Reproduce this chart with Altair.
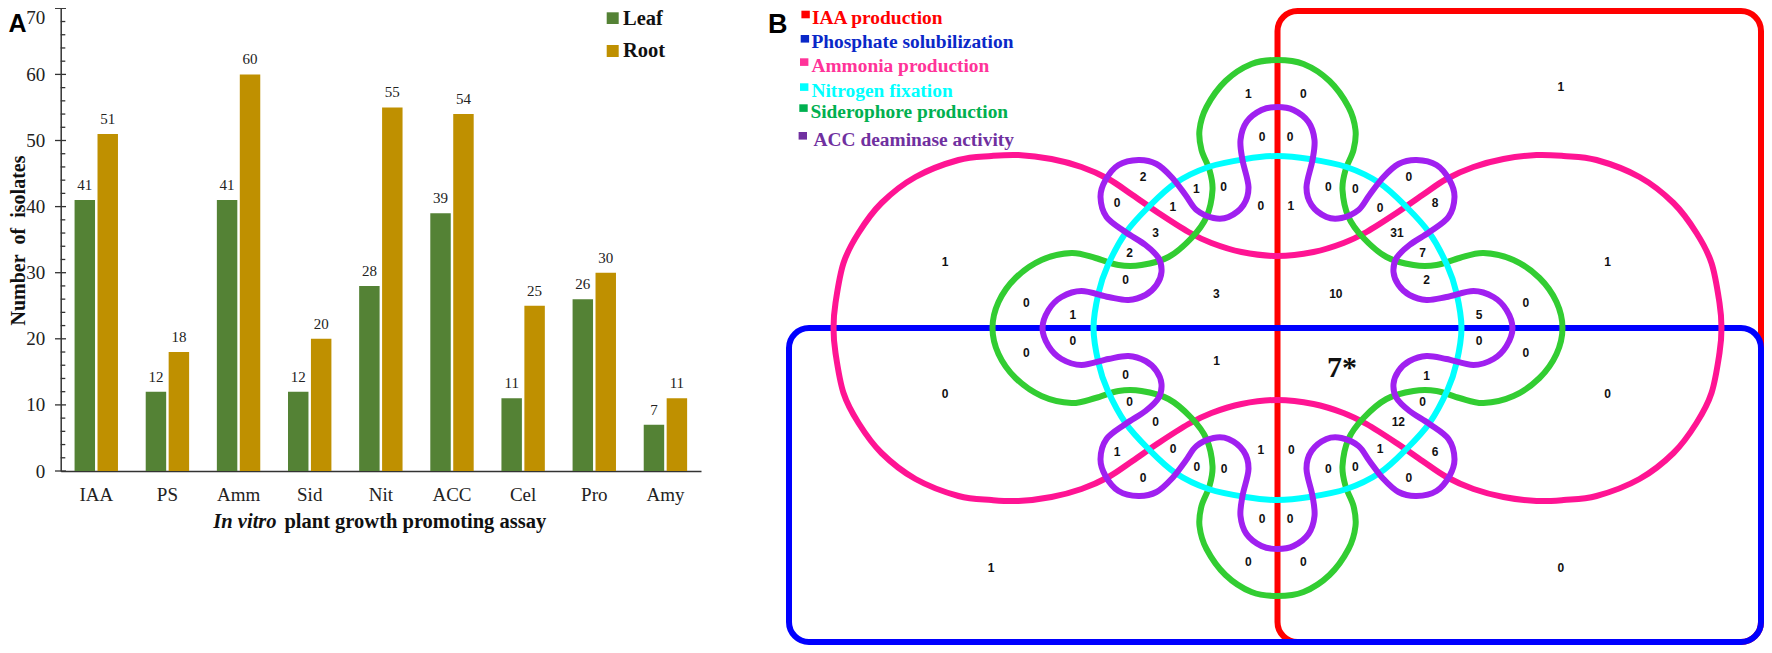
import altair as alt
import pandas as pd

SERIF = "Liberation Serif"
SANS = "Liberation Sans"

# ---------- panel A values ----------
categories = ["IAA", "PS", "Amm", "Sid", "Nit", "ACC", "Cel", "Pro", "Amy"]
leaf_values = [41, 12, 41, 12, 28, 39, 11, 26, 7]
root_values = [51, 18, 60, 20, 55, 54, 25, 30, 11]
series_names = ["Leaf", "Root"]
series_colors = ["#548235", "#bf9000"]
major_ticks = [0, 10, 20, 30, 40, 50, 60, 70]
minor_ticks = [2, 4, 6, 8, 12, 14, 16, 18, 22, 24, 26, 28, 32, 34, 36, 38, 42, 44, 46, 48, 52, 54, 56, 58, 62, 64, 66, 68]

# ---------- panel B outlines: one quadrant, (across, along) from the diagram centre ----------
centre_x, centre_y = 1277.5, 328
pink_q = [(0, 72), (36, 76), (66, 85), (89, 96), (119, 115), (145, 133), (169, 149), (196, 161),
          (226, 169), (259, 173), (286, 172), (319, 168), (362, 151), (396, 125), (419, 95), (434, 65), (442, 25), (444, 0)]
green_q = [(0, 268), (26, 264), (52, 247), (71, 221), (78, 198), (76, 178), (68, 158), (65, 138), (71, 111), (86, 90),
           (109, 71), (136, 63), (159, 63), (182, 70), (206, 75), (236, 68), (262, 50), (279, 26), (285, 0)]
cyan_q = [(0, 172), (32, 169), (69, 161), (102, 145), (129, 121), (152, 95), (170, 62), (179, 35), (184, 0)]
purple_q = [(0, 221), (16, 218), (31, 206), (37, 188), (35, 168), (29, 141), (34, 123), (49, 111), (64, 110), (81, 118),
            (92, 133), (106, 151), (121, 164), (139, 168), (159, 163), (172, 148), (177, 131), (171, 111), (152, 96),
            (132, 83), (119, 70), (116, 56), (121, 43), (132, 33), (149, 28), (169, 31), (196, 37), (216, 31),
            (229, 18), (235, 0)]

red_box = [1277.5, 1761, 11, 642]
blue_box = [789, 1761, 328, 642]

venn_labels = [
    ("2", 1143.2, 177.3), ("0", 1117.1, 203.3), ("1", 1196.4, 189.3), ("0", 1223.6, 186.7), ("1", 1172.9, 207.3),
    ("3", 1155.7, 233.3), ("2", 1129.6, 252.7), ("0", 1125.7, 280), ("3", 1216.4, 294.3), ("1", 945, 261.7),
    ("0", 1026.4, 303.3), ("1", 1072.9, 315), ("1", 1560.8, 87.3), ("1", 1248.3, 94), ("0", 1303.3, 94),
    ("0", 1262, 136.7), ("0", 1290, 136.7), ("0", 1260.8, 205.7), ("1", 1290.8, 205.7), ("0", 1328.3, 186.7),
    ("0", 1355.4, 189), ("0", 1408.8, 177.3), ("8", 1435, 203.3), ("0", 1380, 207.7), ("31", 1397, 233.3),
    ("7", 1422.5, 253.3), ("2", 1426.7, 280), ("1", 1607.5, 261.7), ("10", 1335.8, 294.3), ("0", 1525.8, 303.3),
    ("5", 1479.2, 315), ("0", 1479.2, 341), ("0", 1525.8, 352.7), ("1", 1216.7, 361), ("1", 1426.7, 375.7),
    ("0", 1607.5, 393.7), ("0", 1422.5, 402.3), ("12", 1398.3, 421.7), ("1", 1260.8, 450), ("0", 1291.3, 450),
    ("1", 1380, 449.3), ("6", 1435, 451.7), ("0", 1224.2, 469.3), ("0", 1328.3, 469.3), ("0", 1355.4, 467.3),
    ("0", 1408.8, 478), ("0", 1262, 518.7), ("0", 1290, 518.7), ("0", 1248.3, 562.3), ("0", 1303.3, 562.3),
    ("0", 1560.8, 568), ("0", 1026.4, 352.7), ("0", 1072.9, 341), ("0", 1125.7, 375.3), ("0", 945, 393.7),
    ("0", 1129.6, 402.3), ("0", 1155.7, 421.7), ("0", 1173.2, 449), ("1", 1117.1, 452), ("0", 1196.8, 467.3),
    ("0", 1143.2, 478), ("1", 991, 568.3),
]

legend_b_names = ["IAA production", "Phosphate solubilization", "Ammonia production", "Nitrogen fixation",
                  "Siderophore production", "ACC deaminase activity"]
legend_b_text_x = [812, 811.4, 811.4, 811.4, 810.4, 813.6]
legend_b_base_y = [24, 48, 71.7, 96.7, 118, 145.7]
legend_b_sq_x = [801.4, 800.7, 800, 800, 799.3, 798.6]
legend_b_sq_y = [10.7, 35, 58.3, 83.3, 104.3, 132]
legend_b_colors = ["#ff0000", "#0a28c8", "#ff3399", "#00ffff", "#00b050", "#7030a0"]

# ---------- scales ----------
W, H = 1756, 637
canvas_x = alt.Scale(domain=[8, 8 + W], range=[0, W])
canvas_y = alt.Scale(domain=[8, 8 + H], range=[0, H])
AX_L, AX_R, AX_T, AX_B = 60.7 - 8, 701 - 8, 8.3 - 8, 471 - 8


def cx(f="x"):
    return alt.X(f"{f}:Q", scale=canvas_x, axis=None)


def cy(f="y"):
    return alt.Y(f"{f}:Q", scale=canvas_y, axis=None)


# ---------- panel A ----------
bars_df = pd.DataFrame({
    "cat": categories * 2,
    "series": ["Leaf"] * 9 + ["Root"] * 9,
    "v": leaf_values + root_values,
})
x_bar = alt.X("cat:N", sort=categories,
              scale=alt.Scale(range=[AX_L, AX_R], paddingInner=0.39, paddingOuter=0.195),
              axis=alt.Axis(title=None, labelAngle=0, labelFont=SERIF, labelFontSize=19, labelColor="#222",
                            tickSize=0, labelPadding=14, domainColor="#333", domainWidth=1.5,
                            offset=-(H - AX_B)))
xo = alt.XOffset("series:N", sort=series_names, scale=alt.Scale(paddingInner=0.108, paddingOuter=0))
y_scale = alt.Scale(domain=[0, 70], range=[AX_B, AX_T], nice=False)
y_bar = alt.Y("v:Q", scale=y_scale,
              axis=alt.Axis(title=None, values=major_ticks, labelFont=SERIF, labelFontSize=19, labelColor="#222",
                            ticks=False, labelPadding=16, domainColor="#333", domainWidth=1.5, grid=False,
                            labelBaseline={"condition": {"test": "datum.value == 70", "value": "top"}, "value": "middle"},
                            offset=-AX_L))

bars = alt.Chart(bars_df).mark_bar().encode(
    x=x_bar, xOffset=xo, y=y_bar,
    color=alt.Color("series:N", scale=alt.Scale(domain=series_names, range=series_colors), legend=None),
)
bar_text = alt.Chart(bars_df).mark_text(font=SERIF, fontSize=15, color="#222", baseline="alphabetic", dy=-10).encode(
    x=x_bar, xOffset=xo, y=y_bar, text="v:Q",
)
maj = alt.Chart(pd.DataFrame({"v": major_ticks})).mark_rule(color="#333", strokeWidth=1.3).encode(
    y=y_bar, x=alt.value(AX_L - 5.7), x2=alt.value(AX_L + 5.3))
mnr = alt.Chart(pd.DataFrame({"v": minor_ticks})).mark_rule(color="#333", strokeWidth=1.3).encode(
    y=y_bar, x=alt.value(AX_L), x2=alt.value(AX_L + 4.6))
panel_a = alt.layer(bars, bar_text, maj, mnr)


# ---------- panel B ----------
def closed_outline(q):
    """Mirror one quadrant round the centre; returns a closed run of control points."""
    pts = [(a, -b) for a, b in q]                              # top to right
    pts += [(a, b) for a, b in reversed(q[:-1])]               # right to bottom
    pts += [(-a, b) for a, b in q[1:]]                         # bottom to left
    pts += [(-a, -b) for a, b in reversed(q[1:-1])]            # left to top
    return pd.DataFrame({"x": [centre_x + p[0] for p in pts], "y": [centre_y + p[1] for p in pts],
                         "i": list(range(len(pts)))})


def outline(q, color, sw=6):
    return alt.Chart(closed_outline(q)).mark_line(
        interpolate="cardinal-closed", tension=0, color=color, strokeWidth=sw
    ).encode(x=cx(), y=cy(), order="i:Q")


def box(b, color):
    return alt.Chart(pd.DataFrame({"x": [b[0]], "x2": [b[1]], "y": [b[2]], "y2": [b[3]]})).mark_rect(
        fill="transparent", stroke=color, strokeWidth=6, cornerRadius=20
    ).encode(x=cx(), x2="x2:Q", y=cy(), y2="y2:Q")


def texts(df, **kw):
    return alt.Chart(df).mark_text(**kw).encode(x=cx(), y=cy(), text="t:N")


vl = pd.DataFrame(venn_labels, columns=["t", "x", "y"])
venn_num = texts(vl, font=SANS, fontWeight="bold", fontSize=12, color="#111", align="center", baseline="middle")
seven = texts(pd.DataFrame({"t": ["7*"], "x": [1342], "y": [376.5]}), font=SERIF, fontWeight="bold", fontSize=30,
              color="#111", align="center", baseline="alphabetic")

leg_b_df = pd.DataFrame({"t": legend_b_names, "x": legend_b_text_x, "y": legend_b_base_y, "c": legend_b_colors})
leg_b_text = alt.Chart(leg_b_df).mark_text(font=SERIF, fontWeight="bold", fontSize=19.4, align="left",
                                           baseline="alphabetic").encode(
    x=cx(), y=cy(), text="t:N", color=alt.Color("c:N", scale=None))
sq_b_df = pd.DataFrame({"x": legend_b_sq_x, "x2": [v + 8.4 for v in legend_b_sq_x],
                        "y": legend_b_sq_y, "y2": [v + 7.6 for v in legend_b_sq_y], "c": legend_b_colors})
leg_b_sq = alt.Chart(sq_b_df).mark_rect().encode(x=cx(), x2="x2:Q", y=cy(), y2="y2:Q",
                                                color=alt.Color("c:N", scale=None))

sq_a_df = pd.DataFrame({"x": [606.7, 606.7], "x2": [618.7, 618.7], "y": [12.3, 45], "y2": [24, 57], "c": series_colors})
leg_a_sq = alt.Chart(sq_a_df).mark_rect().encode(x=cx(), x2="x2:Q", y=cy(), y2="y2:Q",
                                                color=alt.Color("c:N", scale=None))
leg_a_text = texts(pd.DataFrame({"t": series_names, "x": [623, 623], "y": [24.5, 57.3]}), font=SERIF, fontWeight="bold",
                   fontSize=20.5, color="#111", align="left", baseline="alphabetic")

title_it = texts(pd.DataFrame({"t": ["In vitro"], "x": [276.6], "y": [528]}), font=SERIF, fontWeight="bold",
                 fontStyle="italic", fontSize=20.5, color="#111", align="right", baseline="alphabetic")
title_rest = texts(pd.DataFrame({"t": ["plant growth promoting assay"], "x": [284.4], "y": [528]}), font=SERIF,
                   fontWeight="bold", fontSize=20.5, color="#111", align="left", baseline="alphabetic")
title_y = texts(pd.DataFrame({"t": ["Number\u00a0\u00a0of\u00a0\u00a0isolates"], "x": [25], "y": [240.5]}), font=SERIF,
                fontWeight="bold", fontSize=20, color="#111", align="center", baseline="alphabetic", angle=270)
tag_a = texts(pd.DataFrame({"t": ["A"], "x": [8.5], "y": [32]}), font=SANS, fontWeight="bold", fontSize=25,
              color="#000", align="left", baseline="alphabetic")
tag_b = texts(pd.DataFrame({"t": ["B"], "x": [768], "y": [33]}), font=SANS, fontWeight="bold", fontSize=27,
              color="#000", align="left", baseline="alphabetic")

panel_b = alt.layer(
    box(red_box, "#ff0000"), box(blue_box, "#0000ff"),
    outline(pink_q, "#ff1493"), outline(green_q, "#32cd32"), outline(cyan_q, "#00ffff"), outline(purple_q, "#a020f0"),
    venn_num, seven, leg_b_sq, leg_b_text, leg_a_sq, leg_a_text, title_it, title_rest, title_y, tag_a, tag_b,
)

chart = alt.layer(panel_a, panel_b).resolve_scale(x="independent", y="independent", color="independent").properties(
    width=W, height=H, padding=0, autosize=alt.AutoSizeParams(type="none"),
).configure_view(stroke=None)

chart.save("out.html", embed_options={"renderer": "svg", "actions": False})
